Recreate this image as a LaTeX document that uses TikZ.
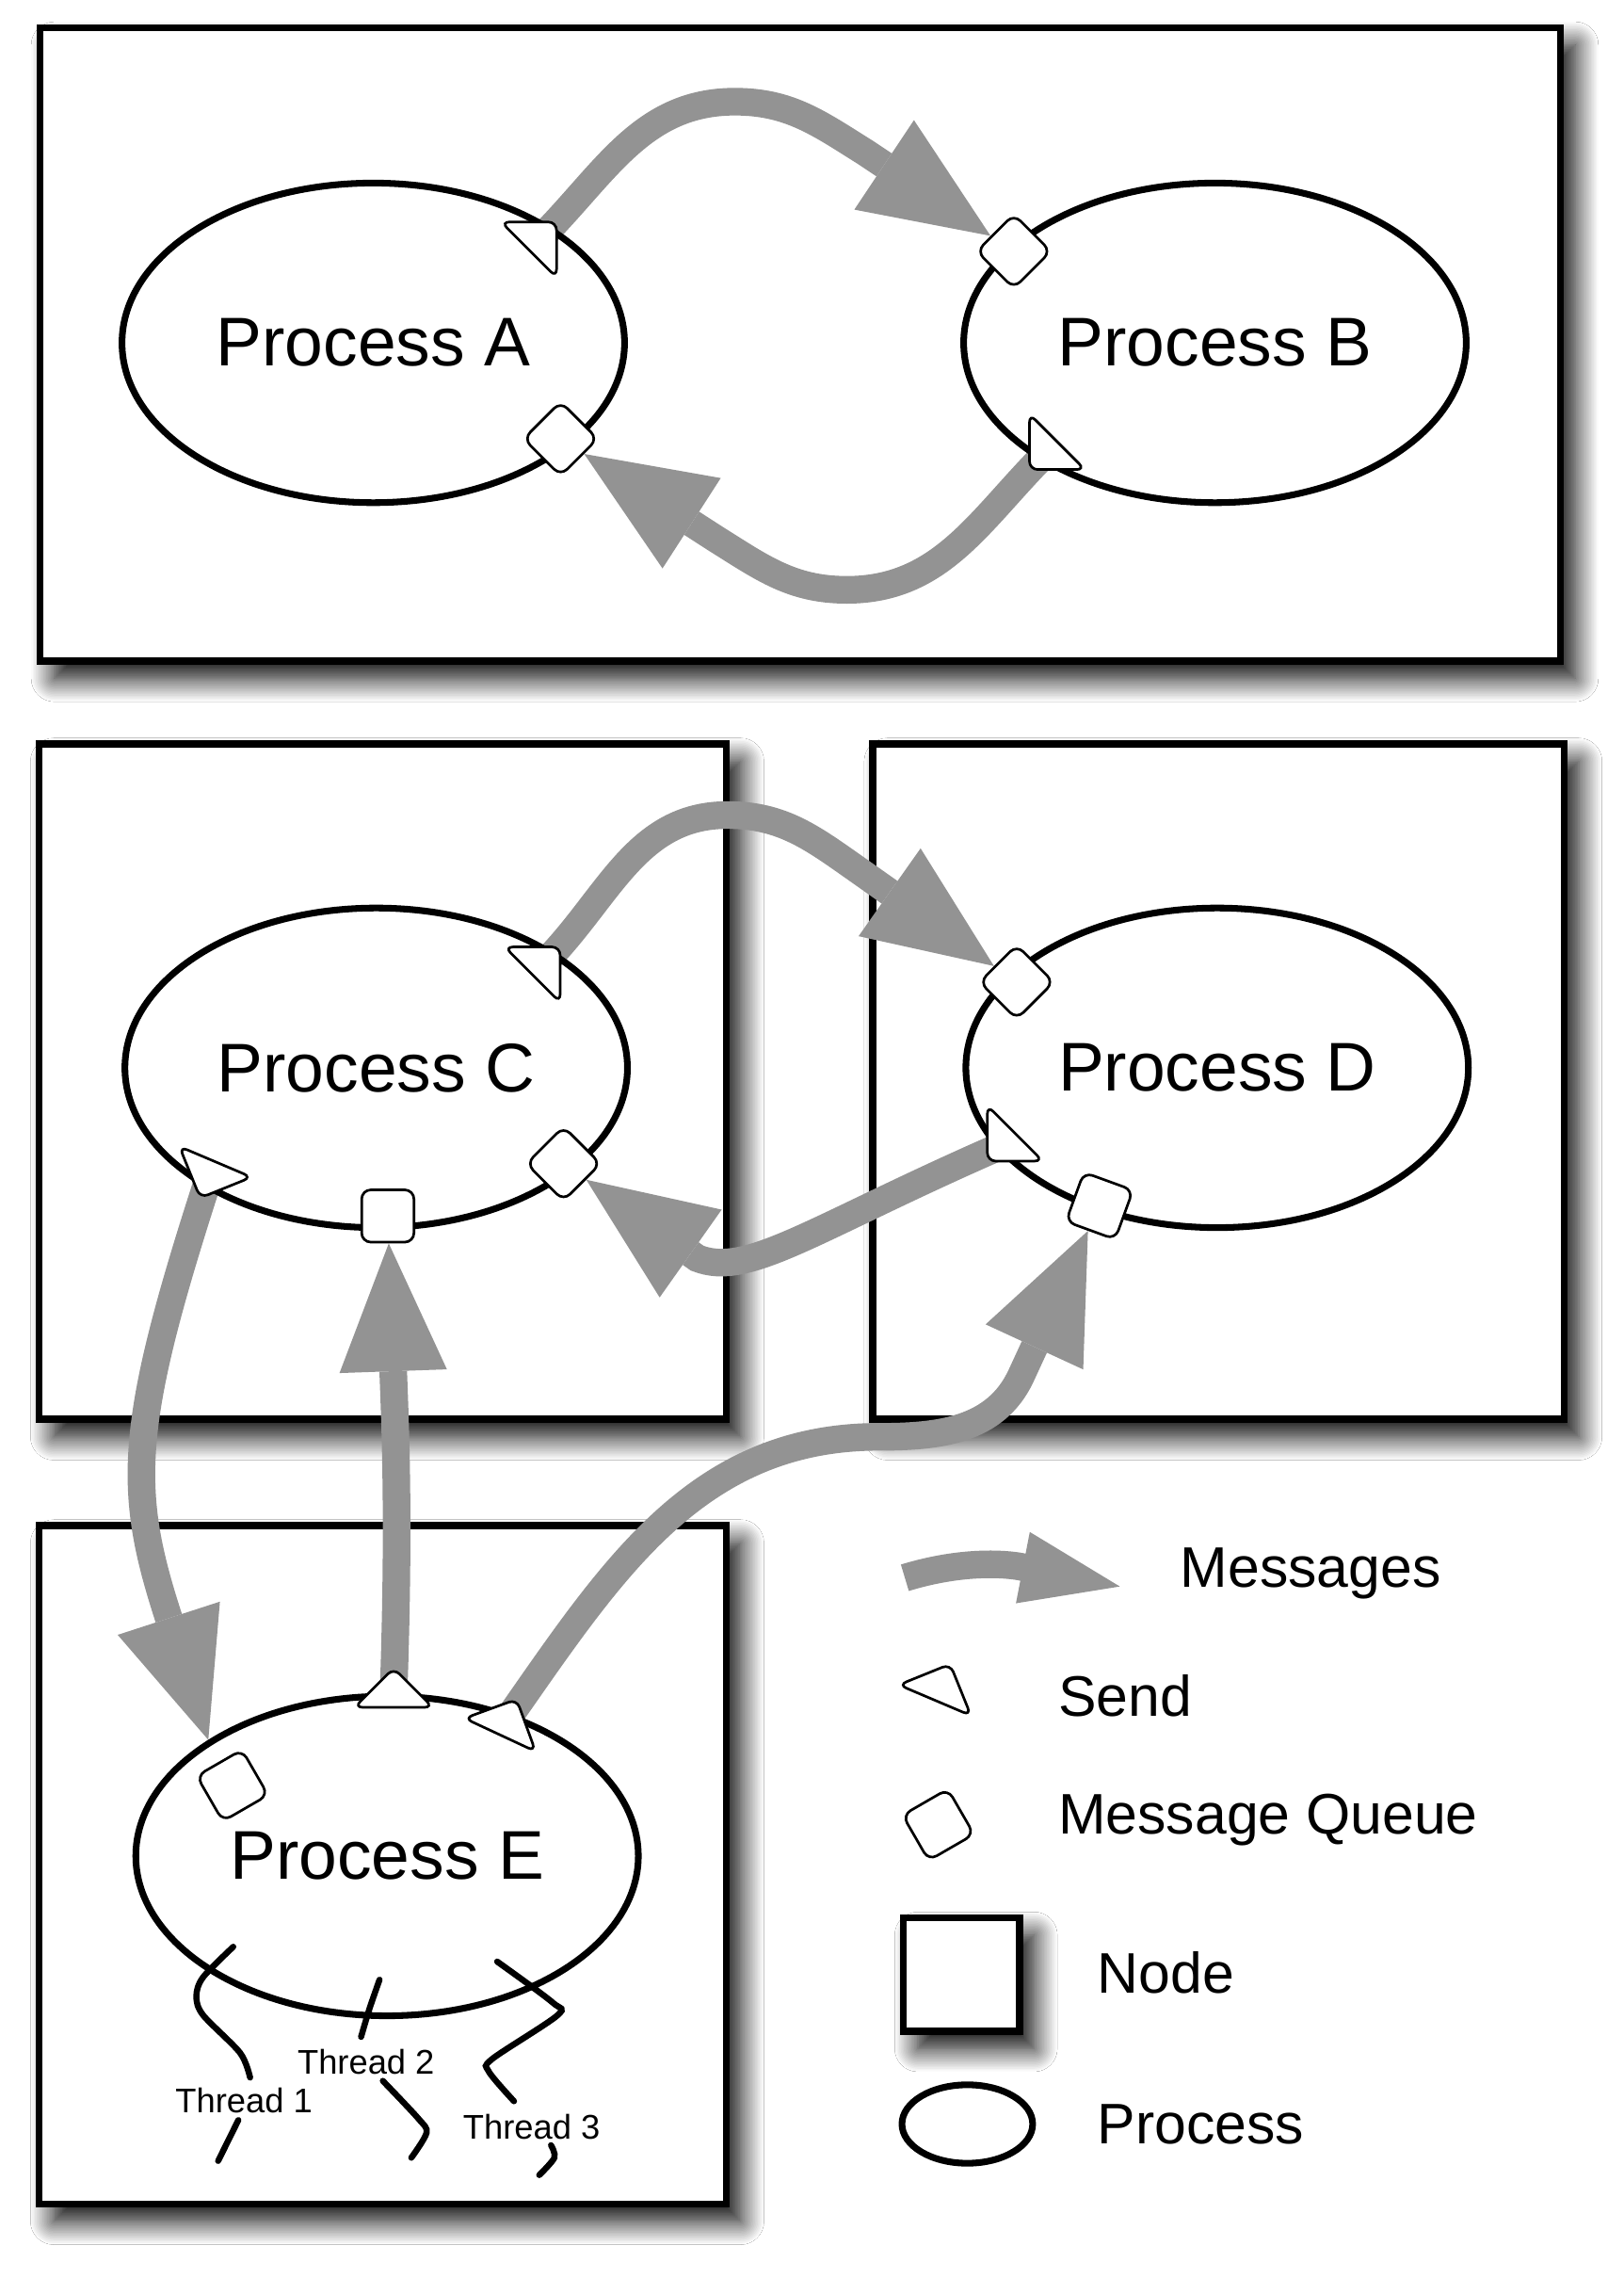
\documentclass[tikz,border=0pt]{standalone}
\usepackage{fontspec}
\setmainfont{Liberation Sans}
\usetikzlibrary{positioning,arrows.meta,shapes.geometric,shadows.blur}
\definecolor{msggray}{RGB}{147,147,147}
\pgfdeclarelayer{boxes}
\pgfdeclarelayer{msgs}
\pgfsetlayers{boxes,msgs,main}

\begin{document}
\begin{tikzpicture}[
  nodebox/.style={rectangle, draw, line width=1.4pt, fill=white, blur shadow={shadow xshift=0.1cm, shadow yshift=-0.12cm, shadow blur radius=0.16cm, shadow blur steps=16, shadow opacity=100}},
  proc/.style={ellipse, draw, line width=1.3pt, minimum width=3.46cm, minimum height=2.2cm, font=\fontsize{13.5}{16}\selectfont},
  sendmark/.style={isosceles triangle, isosceles triangle apex angle=90, draw, fill=white, line width=0.5pt, rounded corners=1.6pt, inner sep=0pt, minimum size=0.27cm},
  queuemark/.style={rectangle, draw, fill=white, line width=0.5pt, rounded corners=1.8pt, inner sep=0pt, minimum size=0.36cm},
  msg/.style={draw=msggray, line width=0.19cm, -{Triangle[length=8.8mm,width=7.4mm,line width=0pt]}},
  thread/.style={line width=1.2pt, line cap=round},
  threadlabel/.style={inner sep=0pt, font=\fontsize{6.7}{8}\selectfont},
  legtext/.style={anchor=west, inner sep=0pt, font=\fontsize{11.2}{13}\selectfont}
]
\useasboundingbox (0,0) rectangle (11.18,-15.68);

\begin{pgfonlayer}{boxes}
\fill[white] (0,0) rectangle (11.18,-15.68);
\node[nodebox, minimum width=10.47cm, minimum height=4.36cm] (topnode) at (5.51,-2.37) {};
\node[nodebox, minimum width=4.73cm, minimum height=4.65cm] (cnode) at (2.635,-7.445) {};
\node[nodebox, minimum width=4.76cm, minimum height=4.65cm] (dnode) at (8.39,-7.445) {};
\node[nodebox, minimum width=4.73cm, minimum height=4.67cm] (enode) at (2.635,-12.835) {};
\node[nodebox, minimum width=0.8cm, minimum height=0.78cm] (lnode) at (6.62,-13.59) {};
\end{pgfonlayer}

\node[proc] (A) at (2.57,-2.36) {Process A};
\node[proc] (B) at (8.365,-2.36) {Process B};
\node[proc] (C) at (2.59,-7.35) {Process C};
\node[proc] (D) at (8.38,-7.35) {Process D};
\node[proc] (E) at (2.665,-12.775) {Process E};

\node[sendmark, rotate=45] (sA) at (3.72,-1.64) {};
\node[queuemark, rotate=45] (qA) at (3.86,-3.02) {};
\node[queuemark, rotate=45] (qB) at (6.98,-1.73) {};
\node[sendmark, rotate=225] (sB) at (7.2,-3.12) {};

\node[sendmark, rotate=45] (sC) at (3.745,-6.63) {};
\node[queuemark, rotate=45] (qC) at (3.88,-8.01) {};
\node[queuemark] (qC2) at (2.67,-8.37) {};
\node[sendmark, rotate=247] (sC2) at (1.44,-8.10) {};
\node[queuemark, rotate=45] (qD) at (7.0,-6.76) {};
\node[sendmark, rotate=225] (sD) at (6.91,-7.88) {};
\node[queuemark, rotate=-20] (qD2) at (7.57,-8.30) {};

\node[queuemark, rotate=30] (qE) at (1.6,-12.29) {};
\node[sendmark, rotate=90] (sE) at (2.71,-11.64) {};
\node[sendmark, rotate=65] (sE2) at (3.49,-11.84) {};

\begin{pgfonlayer}{msgs}
\draw[msg] (sA.center) to[out=45,in=180] ++(1.34,0.94) to[out=0,in=148] ++(0.9,-0.35) -- (qB);
\draw[msg] (sB.center) to[out=225,in=0] ++(-1.37,-0.94) to[out=180,in=-32] ++(-0.9,0.35) -- (qA);
\draw[msg] (sC.center) to[out=45,in=180] ++(1.265,1.02) to[out=0,in=145] ++(0.9,-0.38) -- (qD);
\draw[msg] (sD.center) .. controls (5.6,-8.45) and (5.15,-8.8) .. (4.8,-8.66) -- (qC);
\draw[msg] (sC2.center) to[out=252,in=108,looseness=1.2] (E.147);
\draw[msg] (sE.center) to[out=88,in=-88] (qC2);
\draw[msg] (sE2.center) to[out=55,in=180] ++(2.56,1.95) to[out=0,in=-115] ++(0.98,0.42) -- (qD2);
\end{pgfonlayer}

\draw[thread] plot[smooth] coordinates {(1.606,-13.40) (1.398,-13.61) (1.352,-13.74) (1.398,-13.87) (1.653,-14.13) (1.722,-14.30)};
\draw[thread] (1.641,-14.593) -- (1.502,-14.874);
\draw[thread] plot[smooth] coordinates {(2.613,-13.627) (2.544,-13.826) (2.486,-14.02)};
\draw[thread] plot[smooth] coordinates {(2.636,-14.323) (2.88,-14.582) (2.937,-14.68) (2.832,-14.852)};
\draw[thread] plot[smooth] coordinates {(3.423,-13.502) (3.804,-13.783) (3.84,-13.87) (3.389,-14.172) (3.365,-14.258) (3.539,-14.463)};
\draw[thread] plot[smooth] coordinates {(3.794,-14.766) (3.817,-14.852) (3.713,-14.971)};
\node[threadlabel] (t1) at (1.68,-14.46) {Thread 1};
\node[threadlabel] (t2) at (2.52,-14.19) {Thread 2};
\node[threadlabel] (t3) at (3.66,-14.64) {Thread 3};

\coordinate (msgtail) at (6.23,-10.86);
\coordinate (msgtip) at (7.71,-10.92);
\draw[msg, -{Triangle[length=6.8mm,width=5mm,line width=0pt]}] (msgtail) to[out=17,in=169] (msgtip);
\node[legtext] (lmsg) at (8.12,-10.83) {Messages};
\node[sendmark, rotate=67] (lsend) at (6.48,-11.6) {};
\node[legtext] (lsendt) at (7.28,-11.67) {Send};
\node[queuemark, rotate=30] (lqueue) at (6.46,-12.56) {};
\node[legtext] (lqueuet) at (7.28,-12.53) {Message Queue};
\node[legtext] (lnodet) at (7.55,-13.58) {Node};
\node[proc, minimum width=0.9cm, minimum height=0.54cm] (lproc) at (6.66,-14.62) {};
\node[legtext] (lproct) at (7.55,-14.62) {Process};
\end{tikzpicture}
\end{document}
